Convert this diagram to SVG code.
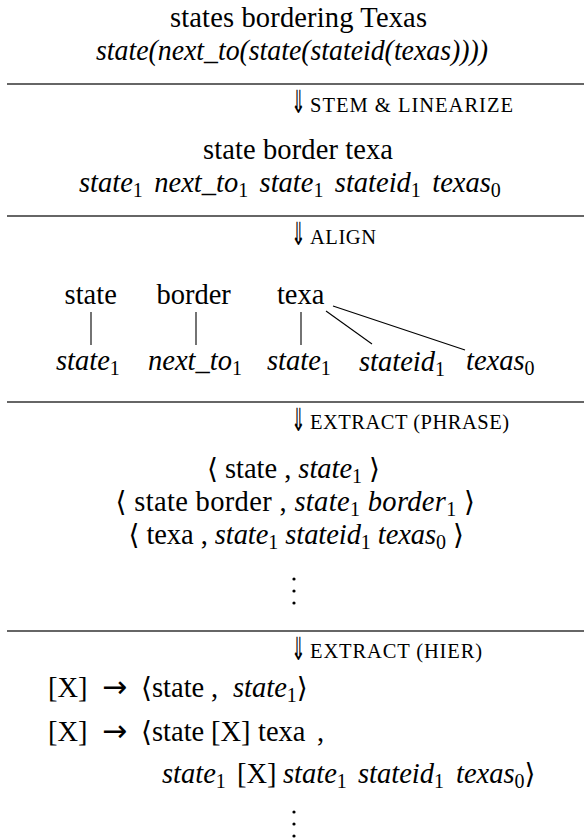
<svg xmlns="http://www.w3.org/2000/svg" width="584" height="838" viewBox="0 0 584 838">
<style>
.t{font-family:"Liberation Serif","DejaVu Serif",serif;font-size:28.5px;fill:#000}
.i{font-style:italic}
.s{font-size:20px;font-style:normal}
.lab{font-size:20.5px}
.arr{font-family:"DejaVu Sans",sans-serif;font-size:32px;fill:#000}
.ra{font-family:"DejaVu Sans",sans-serif;font-size:30px;font-style:normal}
.ang{font-family:"DejaVu Sans","DejaVu Serif",sans-serif;font-style:normal;font-size:28px}
.m{text-anchor:middle}
.rule{stroke:#333;stroke-width:1.6}
.conn{stroke:#000;stroke-width:1.1;fill:none}
.dot{fill:#000}
</style>
<defs>
<g id="vdots"><circle cx="0" cy="0" r="1.6" class="dot"/><circle cx="0" cy="12" r="1.6" class="dot"/><circle cx="0" cy="24" r="1.6" class="dot"/></g>
<text id="dn" class="arr" transform="scale(0.55,1)">⇓</text>
</defs>
<g id="rules">
<line x1="7" y1="84" x2="584" y2="84" class="rule"/>
<line x1="7" y1="216" x2="584" y2="216" class="rule"/>
<line x1="7" y1="402" x2="584" y2="402" class="rule"/>
<line x1="7" y1="631" x2="584" y2="631" class="rule"/>
</g>
<g id="input">
<text x="170" y="27" class="t" textLength="257">states bordering Texas</text>
<text x="96" y="60" class="t i" textLength="392" lengthAdjust="spacingAndGlyphs">state(next_to(state(stateid(texas))))</text>
</g>
<g id="step-stem">
<use href="#dn" transform="translate(291,113)"/>
<text x="310" y="111.5" class="t lab" textLength="203">STEM &amp; LINEARIZE</text>
</g>
<g id="linearized">
<text x="203" y="159" class="t" textLength="190">state border texa</text>
<text x="79" y="192" class="t i" style="word-spacing:4.3px">state<tspan class="s" dy="5">1</tspan><tspan dy="-5"> next_to</tspan><tspan class="s" dy="5">1</tspan><tspan dy="-5"> state</tspan><tspan class="s" dy="5">1</tspan><tspan dy="-5"> stateid</tspan><tspan class="s" dy="5">1</tspan><tspan dy="-5"> texas</tspan><tspan class="s" dy="5">0</tspan></text>
</g>
<g id="step-align">
<use href="#dn" transform="translate(291,245)"/>
<text x="310" y="243.5" class="t lab" textLength="66">ALIGN</text>
</g>
<g id="w-state"><text x="90.7" y="304" class="t m">state</text></g>
<g id="w-border"><text x="193.6" y="304" class="t m">border</text></g>
<g id="w-texa"><text x="300.7" y="304" class="t m">texa</text></g>
<g id="m-state1"><text x="56" y="370" class="t i">state<tspan class="s" dy="5">1</tspan></text></g>
<g id="m-next_to1"><text x="148" y="370" class="t i">next_to<tspan class="s" dy="5">1</tspan></text></g>
<g id="m-state1b"><text x="267" y="370" class="t i">state<tspan class="s" dy="5">1</tspan></text></g>
<g id="m-stateid1"><text x="359" y="371" class="t i">stateid<tspan class="s" dy="5">1</tspan></text></g>
<g id="m-texas0"><text x="466" y="370" class="t i">texas<tspan class="s" dy="5">0</tspan></text></g>
<g id="connectors">
<line x1="91" y1="312" x2="91" y2="345" class="conn"/>
<line x1="196" y1="312" x2="196" y2="345" class="conn"/>
<line x1="301" y1="312" x2="301" y2="345" class="conn"/>
<line x1="326" y1="311" x2="372" y2="344" class="conn"/>
<line x1="333" y1="306" x2="465" y2="350" class="conn"/>
</g>
<g id="step-phrase">
<use href="#dn" transform="translate(291,431)"/>
<text x="310" y="429" class="t lab" textLength="199">EXTRACT (PHRASE)</text>
</g>
<g id="phrases">
<text x="207" y="478" class="t" textLength="173"><tspan class="ang">⟨</tspan> state , <tspan class="i">state</tspan><tspan class="s" dy="5">1</tspan><tspan dy="-5"> </tspan><tspan class="ang">⟩</tspan></text>
<text x="115.5" y="511" class="t" textLength="359.5"><tspan class="ang">⟨</tspan> state border , <tspan class="i">state</tspan><tspan class="s" dy="5">1</tspan><tspan dy="-5" class="i"> border</tspan><tspan class="s" dy="5">1</tspan><tspan dy="-5"> </tspan><tspan class="ang">⟩</tspan></text>
<text x="128.5" y="544" class="t" textLength="335.5"><tspan class="ang">⟨</tspan> texa , <tspan class="i">state</tspan><tspan class="s" dy="5">1</tspan><tspan dy="-5" class="i"> stateid</tspan><tspan class="s" dy="5">1</tspan><tspan dy="-5" class="i"> texas</tspan><tspan class="s" dy="5">0</tspan><tspan dy="-5"> </tspan><tspan class="ang">⟩</tspan></text>
<use href="#vdots" x="294" y="579"/>
</g>
<g id="step-hier">
<use href="#dn" transform="translate(291,660)"/>
<text x="310" y="658" class="t lab" textLength="172">EXTRACT (HIER)</text>
</g>
<g id="rules-hier">
<text y="697" class="t"><tspan x="48">[X]</tspan><tspan x="102" class="ra">→</tspan><tspan x="141" class="ang">⟨</tspan><tspan x="152">state</tspan><tspan x="211">,</tspan><tspan x="233" class="i">state</tspan><tspan class="s" dy="5">1</tspan><tspan class="ang" dy="-5">⟩</tspan></text>
<text y="741" class="t"><tspan x="48">[X]</tspan><tspan x="102" class="ra">→</tspan><tspan x="141" class="ang">⟨</tspan><tspan x="152">state</tspan><tspan x="211">[X]</tspan><tspan x="258">texa</tspan><tspan x="317">,</tspan></text>
<text y="783" class="t"><tspan x="162" class="i">state</tspan><tspan class="s" dy="5">1</tspan><tspan x="237" dy="-5">[X]</tspan><tspan x="283" class="i">state</tspan><tspan class="s" dy="5">1</tspan><tspan x="358" dy="-5" class="i">stateid</tspan><tspan class="s" dy="5">1</tspan><tspan x="456" dy="-5" class="i">texas</tspan><tspan class="s" dy="5">0</tspan><tspan class="ang" dy="-5">⟩</tspan></text>
<use href="#vdots" x="294" y="812"/>
</g>
</svg>
